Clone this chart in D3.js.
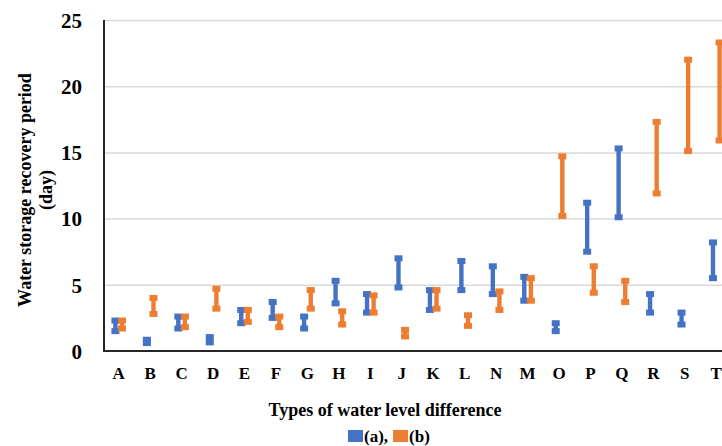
<!DOCTYPE html>
<meta charset="utf-8" />
<head>
  <script src="https://d3js.org/d3.v7.min.js"></script>
  <title>Water storage recovery period</title>
  <style>
    body { margin: 0; background: #fff; }
    text { font-family: "Liberation Serif", "Times New Roman", serif; font-weight: bold; fill: #000; }
    .axis--y path { display: none; }
    .axis--y line { stroke: #d9d9d9; stroke-width: 1.5; }
    .axis--x path, .axis--x line { display: none; }
  </style>
</head>
<body>
  <svg id="chart" width="722" height="446"></svg>
</body>

<script>
  const categories = ["A", "B", "C", "D", "E", "F", "G", "H", "I", "J",
    "K", "L", "N", "M", "O", "P", "Q", "R", "S", "T"];
  // series (a), blue
  const aHigh = [2.3, 0.85, 2.6, 1.05, 3.1, 3.7, 2.6, 5.3, 4.3, 7.0,
    4.6, 6.8, 6.4, 5.6, 2.1, 11.2, 15.3, 4.3, 2.9, 8.2];
  const aLow = [1.5, 0.6, 1.7, 0.65, 2.1, 2.5, 1.7, 3.6, 2.9, 4.8,
    3.1, 4.6, 4.3, 3.8, 1.5, 7.5, 10.1, 2.9, 2.0, 5.5];
  // series (b), orange
  const bHigh = [2.3, 4.0, 2.6, 4.7, 3.1, 2.6, 4.6, 3.0, 4.2, 1.6,
    4.6, 2.7, 4.5, 5.5, 14.7, 6.4, 5.3, 17.3, 22.0, 23.3];
  const bLow = [1.7, 2.8, 1.8, 3.2, 2.2, 1.8, 3.2, 2.0, 2.9, 1.1,
    3.2, 1.9, 3.1, 3.8, 10.2, 4.4, 3.7, 11.9, 15.1, 15.9];
  const yTicks = [0, 5, 10, 15, 20, 25];

  const svg = d3.select("#chart");
  const margin = { top: 20, left: 104, bottom: 351 };

  const x = d3.scaleBand().domain(categories).range([103, 732]);
  const y = d3.scaleLinear().domain([0, 25]).range([margin.bottom, margin.top]);

  // gridlines + y tick labels
  const yAxis = svg.append("g")
    .attr("class", "axis--y")
    .attr("transform", `translate(${margin.left},0)`)
    .call(d3.axisLeft(y).tickValues(yTicks).tickSize(-(722 - margin.left)).tickPadding(22));
  yAxis.selectAll("text").style("font-size", "21px").attr("dy", "0.35em");
  yAxis.selectAll(".tick").filter((d) => d === 0).select("line").remove();

  // x labels
  const xAxis = svg.append("g")
    .attr("class", "axis--x")
    .attr("transform", `translate(0,${margin.bottom})`)
    .call(d3.axisBottom(x).tickSize(0).tickPadding(16));
  xAxis.selectAll("text").style("font-size", "17px").attr("dy", "0.71em");

  // axis lines
  svg.append("line")
    .attr("x1", margin.left).attr("x2", margin.left)
    .attr("y1", y(25)).attr("y2", y(0) + 1)
    .attr("stroke", "#262626").attr("stroke-width", 2);
  svg.append("line")
    .attr("x1", margin.left - 1).attr("x2", 722)
    .attr("y1", y(0)).attr("y2", y(0))
    .attr("stroke", "#262626").attr("stroke-width", 2);

  const series = [
    { name: "(a)", color: "#4472c4", off: -3.3, high: aHigh, low: aLow },
    { name: "(b)", color: "#ed7d31", off: 3.3, high: bHigh, low: bLow },
  ];

  const capW = 8, capH = 6;
  series.forEach((s) => {
    const g = svg.append("g").attr("fill", s.color).attr("stroke", "none");
    const rows = categories.map((c, i) => ({ c, hi: s.high[i], lo: s.low[i] }));
    const cx = (d) => x(d.c) + x.bandwidth() / 2 + s.off;
    g.selectAll(".stem").data(rows).enter().append("rect")
      .attr("x", (d) => cx(d) - 2.2)
      .attr("y", (d) => y(d.hi))
      .attr("width", 4.4)
      .attr("height", (d) => y(d.lo) - y(d.hi));
    g.selectAll(".capHi").data(rows).enter().append("rect")
      .attr("x", (d) => cx(d) - capW / 2)
      .attr("y", (d) => y(d.hi) - capH / 2)
      .attr("width", capW).attr("height", capH);
    g.selectAll(".capLo").data(rows).enter().append("rect")
      .attr("x", (d) => cx(d) - capW / 2)
      .attr("y", (d) => y(d.lo) - capH / 2)
      .attr("width", capW).attr("height", capH);
  });

  // y title
  const yTitle = svg.append("text")
    .attr("transform", "translate(0,190) rotate(-90)")
    .attr("text-anchor", "middle")
    .style("font-size", "18px");
  yTitle.append("tspan").attr("x", 0).attr("y", 31).text("Water storage recovery period");
  yTitle.append("tspan").attr("x", 0).attr("y", 52).text("(day)");

  // x title
  svg.append("text")
    .attr("x", 385).attr("y", 416)
    .attr("text-anchor", "middle")
    .style("font-size", "18px")
    .text("Types of water level difference");

  // legend
  const legend = svg.append("g").attr("transform", "translate(348,430)");
  let lx = 0;
  series.forEach((s, i) => {
    legend.append("rect").attr("x", lx).attr("y", 0).attr("width", 15).attr("height", 12).attr("fill", s.color);
    const t = legend.append("text")
      .attr("x", lx + 16).attr("y", 12)
      .style("font-size", "17px")
      .text(i === 0 ? s.name + "," : s.name);
    lx += 16 + t.node().getComputedTextLength() + 5;
  });
</script>
